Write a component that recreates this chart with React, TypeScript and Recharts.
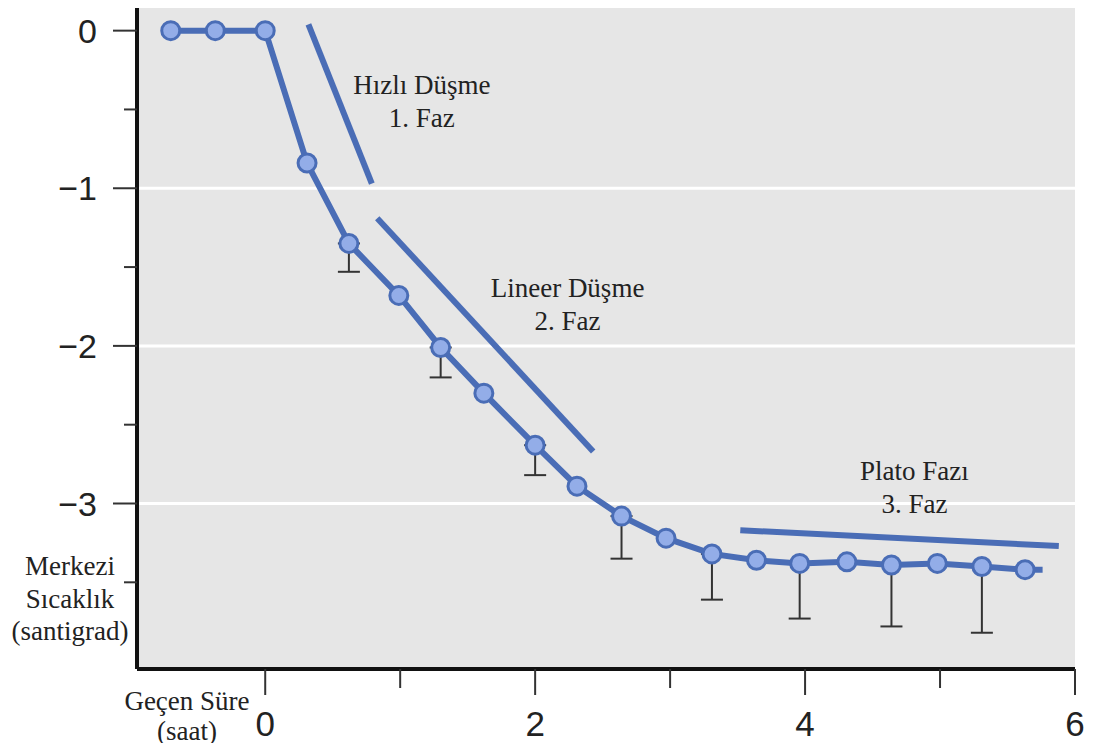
import {
  ComposedChart,
  Line,
  XAxis,
  YAxis,
  CartesianGrid,
  ErrorBar,
  ReferenceLine,
  ReferenceDot,
  Label,
} from 'recharts';

// elapsed time (hours) and core temperature change (°C)
const timeHours = [-0.7, -0.37, 0, 0.31, 0.62, 0.99, 1.3, 1.62, 2.0, 2.31, 2.64, 2.97, 3.31, 3.64, 3.96, 4.31, 4.64, 4.98, 5.31, 5.63, 5.76];
const coreTemp = [0, 0, 0, -0.84, -1.35, -1.68, -2.01, -2.3, -2.63, -2.89, -3.08, -3.22, -3.32, -3.36, -3.38, -3.37, -3.39, -3.38, -3.4, -3.42, -3.42];
// downward-only error bars (null = no bar)
const lowerError = [null, null, null, null, 0.18, null, 0.19, null, 0.19, null, 0.27, null, 0.29, null, 0.35, null, 0.39, null, 0.42, null, null];
// last entry only continues the line, it has no marker
const hasMarker = timeHours.map((_, i) => i < timeHours.length - 1);

const xTicks = [0, 1, 2, 3, 4, 5, 6];
const xLabelled = [0, 2, 4, 6];
const yTicks = [0, -0.5, -1, -1.5, -2, -2.5, -3, -3.5];
const yLabelled = [0, -1, -2, -3];
const gridValues = [-1, -2, -3];

// phase trend lines
const phaseLines = [
  [{ x: 0.32, y: 0.04 }, { x: 0.79, y: -0.97 }],
  [{ x: 0.83, y: -1.19 }, { x: 2.43, y: -2.67 }],
  [{ x: 3.52, y: -3.17 }, { x: 5.88, y: -3.27 }],
];
const phaseLabels = [
  { x: 1.16, y: -0.4, lines: ['Hızlı Düşme', '1. Faz'] },
  { x: 2.24, y: -1.69, lines: ['Lineer Düşme', '2. Faz'] },
  { x: 4.81, y: -2.85, lines: ['Plato Fazı', '3. Faz'] },
];

const data = timeHours.map((t, i) => ({
  t,
  temp: coreTemp[i],
  err: lowerError[i] == null ? null : [lowerError[i], 0],
  marker: hasMarker[i],
}));

const BLUE = '#4a6db6';
const DOT_FILL = '#93ade8';
const SANS = '"Liberation Sans", Arial, sans-serif';
const SERIF = '"Liberation Serif", "Times New Roman", serif';

const fmt = (v: number) => (v < 0 ? '\u2212' + Math.abs(v) : String(v));

function XTick(props: any) {
  const { x, y, payload } = props;
  const major = xLabelled.includes(payload.value);
  return (
    <g>
      <line x1={x} x2={x} y1={y} y2={y + (major ? 26 : 19)} stroke="#333" strokeWidth={2} />
      {major && (
        <text x={x} y={y + 67} textAnchor="middle" fontSize={35} fontFamily={SANS} fill="#222">
          {payload.value}
        </text>
      )}
    </g>
  );
}

function YTick(props: any) {
  const { x, y, payload } = props;
  const major = yLabelled.includes(payload.value);
  return (
    <g>
      <line x1={x - (major ? 24 : 13)} x2={x} y1={y} y2={y} stroke="#333" strokeWidth={2} />
      {major && (
        <text x={x - 40} y={y + 12} textAnchor="end" fontSize={34} fontFamily={SANS} fill="#222">
          {fmt(payload.value)}
        </text>
      )}
    </g>
  );
}

function Marker(props: any) {
  const { cx, cy, payload, index } = props;
  if (!payload.marker) return <g key={`m${index}`} />;
  return <circle key={`m${index}`} cx={cx} cy={cy} r={9} fill={DOT_FILL} stroke={BLUE} strokeWidth={3} />;
}

const phaseText = (lines: string[]) => (props: any) => {
  const { viewBox } = props;
  return (
    <text x={viewBox.x} y={viewBox.y} textAnchor="middle" fontSize={27} fontFamily={SERIF} fill="#222">
      {lines.map((l, i) => (
        <tspan key={l} x={viewBox.x} dy={i === 0 ? 0 : 33}>
          {l}
        </tspan>
      ))}
    </text>
  );
};

export default function App() {
  return (
    <div style={{ margin: -8, width: 1103, height: 751, background: '#fff' }}>
      <ComposedChart width={1103} height={751} data={data} margin={{ top: 7, right: 28, bottom: 0, left: 0 }}>
        <CartesianGrid
          fill="#e6e6e6"
          fillOpacity={1}
          vertical={false}
          horizontalValues={gridValues}
          stroke="#ffffff"
          strokeWidth={3}
        />
        <XAxis
          type="number"
          dataKey="t"
          domain={[-0.95, 6]}
          ticks={xTicks}
          allowDataOverflow
          height={82}
          tickSize={0}
          tickMargin={0}
          tickLine={false}
          axisLine={{ stroke: '#111', strokeWidth: 4 }}
          tick={<XTick />}
        >
          <Label
            content={(p: any) => {
              const vb = p.viewBox;
              return (
                <text textAnchor="middle" fontSize={27} fontFamily={SERIF} fill="#222">
                  <tspan x={187} y={vb.y + 41}>Geçen Süre</tspan>
                  <tspan x={187} y={vb.y + 71}>(saat)</tspan>
                </text>
              );
            }}
          />
        </XAxis>
        <YAxis
          type="number"
          domain={[-4.05, 0.15]}
          ticks={yTicks}
          allowDataOverflow
          width={137}
          tickSize={0}
          tickMargin={0}
          tickLine={false}
          axisLine={{ stroke: '#111', strokeWidth: 4 }}
          tick={<YTick />}
        >
          <Label
            content={(p: any) => {
              const vb = p.viewBox;
              const bottom = vb.y + vb.height;
              return (
                <text textAnchor="middle" fontSize={27} fontFamily={SERIF} fill="#222">
                  <tspan x={70} y={bottom - 94}>Merkezi</tspan>
                  <tspan x={70} y={bottom - 61}>Sıcaklık</tspan>
                  <tspan x={70} y={bottom - 29}>(santigrad)</tspan>
                </text>
              );
            }}
          />
        </YAxis>
        {phaseLines.map((seg, i) => (
          <ReferenceLine key={i} segment={seg} stroke={BLUE} strokeWidth={6} ifOverflow="visible" />
        ))}
        <Line
          dataKey="temp"
          stroke={BLUE}
          strokeWidth={6}
          dot={Marker}
          activeDot={false}
          isAnimationActive={false}
        >
          <ErrorBar dataKey="err" direction="y" width={11} stroke="#333" strokeWidth={2} />
        </Line>
        {phaseLabels.map((p, i) => (
          <ReferenceDot
            key={i}
            x={p.x}
            y={p.y}
            r={0}
            fill="none"
            stroke="none"
            ifOverflow="visible"
            label={phaseText(p.lines)}
          />
        ))}
      </ComposedChart>
    </div>
  );
}
